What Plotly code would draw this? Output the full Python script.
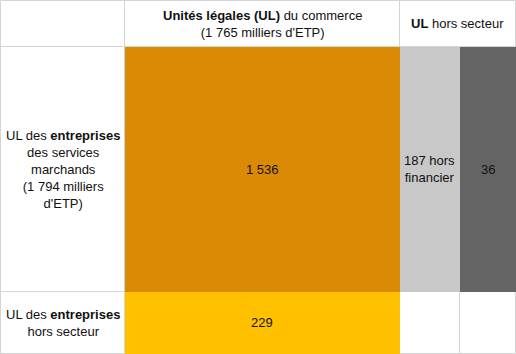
import plotly.graph_objects as go

# ---- data ----
col_headers = ["<b>Unités légales (UL)</b> du commerce<br>(1 765 milliers d'ETP)",
               "<b>UL</b> hors secteur"]
row_headers = ["UL des <b>entreprises</b><br>des services<br>marchands<br>(1 794 milliers<br>d'ETP)",
               "UL des <b>entreprises</b><br>hors secteur"]
cell_values = [1536, 187, 36, 229]
cell_labels = ["1 536", "187 hors<br>financier", "36", "229"]

# ---- layout of the schematic grid (pixel-like data units) ----
col_edges = [0.5, 124.5, 399.5, 459.5, 515.5]
row_edges = [0.5, 46.5, 291.5, 353.5]
# cell placement: (col index, row index) for each value
cell_pos = [(1, 1), (2, 1), (3, 1), (1, 2)]
cell_colors = ["#DB8A06", "#C8C8C8", "#646464", "#FFC000"]
line_col = "#D4D4D4"

fig = go.Figure()
for (c, r), col, v in zip(cell_pos, cell_colors, cell_values):
    x0, x1 = col_edges[c], col_edges[c + 1]
    y0, y1 = row_edges[r], row_edges[r + 1]
    if c == 1:
        x0 += 0.5
    fig.add_trace(go.Bar(x=[(x0 + x1) / 2], y=[y1 - y0], base=[y0], width=[x1 - x0],
                         marker=dict(color=col, line=dict(width=0)),
                         customdata=[v], hoverinfo="skip", showlegend=False))

shapes = []
W, H = col_edges[-1], row_edges[-1]
for x in [col_edges[0], col_edges[1], col_edges[2], col_edges[4]]:
    shapes.append(dict(type="line", x0=x, x1=x, y0=row_edges[0], y1=H))
shapes.append(dict(type="line", x0=col_edges[3], x1=col_edges[3], y0=row_edges[1], y1=H))
for y in row_edges:
    shapes.append(dict(type="line", x0=col_edges[0], x1=W, y0=y, y1=y))
for s in shapes:
    s.update(xref="x", yref="y", layer="below", line=dict(color=line_col, width=1))

font = dict(family="Liberation Sans, Arial, sans-serif", size=13, color="#111111")
ann = []
# column headers
ann.append(dict(x=(col_edges[1] + col_edges[2]) / 2, y=(row_edges[0] + row_edges[1]) / 2,
                text=col_headers[0]))
ann.append(dict(x=(col_edges[2] + col_edges[4]) / 2, y=(row_edges[0] + row_edges[1]) / 2,
                text=col_headers[1]))
# row headers
for i, t in enumerate(row_headers):
    ann.append(dict(x=(col_edges[0] + col_edges[1]) / 2,
                    y=(row_edges[i + 1] + row_edges[i + 2]) / 2, text=t))
# cell labels
for (c, r), t in zip(cell_pos, cell_labels):
    ann.append(dict(x=(col_edges[c] + col_edges[c + 1]) / 2,
                    y=(row_edges[r] + row_edges[r + 1]) / 2, text=t))
for a in ann:
    a.update(xref="x", yref="y", showarrow=False, font=font, align="center",
             xanchor="center", yanchor="middle")

fig.update_layout(
    width=516, height=354, margin=dict(l=0, r=0, t=0, b=0),
    paper_bgcolor="white", plot_bgcolor="white",
    xaxis=dict(range=[0, 516], visible=False, fixedrange=True),
    yaxis=dict(range=[354, 0], visible=False, fixedrange=True),
    shapes=shapes, annotations=ann, barmode="overlay", bargap=0, hovermode=False,
)
fig.write_html("out.html", config={"displayModeBar": False})
